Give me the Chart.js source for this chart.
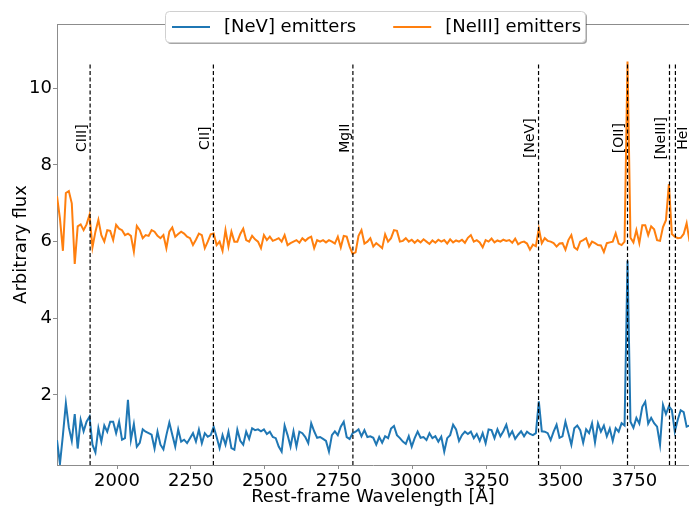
<!DOCTYPE html>
<html><head><meta charset="utf-8">
<script src="https://cdn.jsdelivr.net/npm/chart.js@4"></script>
<style>html,body{margin:0;padding:0;background:#fff;overflow:hidden}canvas{display:block}</style>
</head><body>
<canvas id="c" width="689" height="509"></canvas>
<script>
// ---------------- data ----------------
const wavelengths = [
  1797,1807,1817,1827,1837,1847,1857,1867,1877,1887,
  1897,1907,1917,1927,1937,1947,1957,1967,1977,1987,
  1997,2007,2017,2027,2037,2047,2057,2067,2077,2087,
  2097,2107,2117,2127,2137,2147,2157,2167,2177,2187,
  2197,2207,2217,2227,2237,2247,2257,2267,2277,2287,
  2297,2307,2317,2327,2337,2347,2357,2367,2377,2387,
  2397,2407,2417,2427,2437,2447,2457,2467,2477,2487,
  2497,2507,2517,2527,2537,2547,2557,2567,2577,2587,
  2597,2607,2617,2627,2637,2647,2657,2667,2677,2687,
  2697,2707,2717,2727,2737,2747,2757,2767,2777,2787,
  2797,2807,2817,2827,2837,2847,2857,2867,2877,2887,
  2897,2907,2917,2927,2937,2947,2957,2967,2977,2987,
  2997,3007,3017,3027,3037,3047,3057,3067,3077,3087,
  3097,3107,3117,3127,3137,3147,3157,3167,3177,3187,
  3197,3207,3217,3227,3237,3247,3257,3267,3277,3287,
  3297,3307,3317,3327,3337,3347,3357,3367,3377,3387,
  3397,3407,3417,3427,3437,3447,3457,3467,3477,3487,
  3497,3507,3517,3527,3537,3547,3557,3567,3577,3587,
  3597,3607,3617,3627,3637,3647,3657,3667,3677,3687,
  3697,3707,3717,3727,3737,3747,3757,3767,3777,3787,
  3797,3807,3817,3827,3837,3847,3857,3867,3877,3887,
  3897,3907,3917,3927,3937
];
const nevFlux = [
  0.82,0.20,0.95,1.78,1.15,0.80,1.50,0.60,1.35,1.05,
  1.30,1.43,0.70,0.50,1.13,0.78,1.20,1.04,1.30,1.30,
  1.00,1.30,0.83,0.87,1.87,0.83,1.24,0.65,0.75,1.10,
  1.04,1.00,0.96,0.60,1.04,0.70,0.58,0.95,1.28,0.96,
  0.65,1.10,0.78,0.83,0.74,0.87,1.00,0.78,1.09,0.74,
  1.00,0.91,0.95,1.17,0.90,0.61,0.95,0.70,1.04,0.61,
  0.57,1.09,0.80,0.70,1.04,0.85,1.13,1.08,1.10,1.05,
  1.10,0.98,1.04,0.90,0.87,0.65,0.52,1.20,0.95,0.65,
  1.05,0.65,1.04,1.00,0.90,0.74,1.26,1.05,0.88,0.90,
  0.85,0.80,0.52,0.95,1.05,0.95,1.17,1.30,0.90,0.85,
  1.00,1.04,1.10,0.92,1.08,0.90,0.92,0.88,0.70,0.90,
  0.75,0.92,0.87,1.12,1.19,0.95,0.87,0.78,0.72,0.92,
  0.65,0.87,1.04,0.88,0.90,0.82,1.00,0.87,0.92,0.78,
  0.91,0.52,0.87,0.95,1.22,1.10,0.80,0.95,1.04,0.98,
  1.04,0.87,0.98,0.80,1.00,0.74,1.10,1.08,0.87,1.10,
  0.92,1.05,1.22,0.92,1.05,0.85,0.96,1.05,0.92,1.04,
  0.98,0.95,1.00,1.83,1.05,1.04,1.00,0.82,1.04,1.22,
  0.88,0.92,1.30,1.00,0.70,1.13,1.20,1.08,0.75,1.10,
  1.00,1.26,0.76,1.26,1.04,1.20,0.92,1.12,0.80,1.13,
  1.04,1.26,1.20,5.50,1.30,1.14,1.40,1.25,1.69,1.82,
  1.25,1.40,1.26,1.17,0.70,1.74,1.50,1.70,1.60,1.04,
  1.35,1.60,1.55,1.17,1.20
];
const neiiiFlux = [
  7.19,6.60,5.76,7.27,7.32,7.00,5.42,6.40,6.45,6.30,
  6.45,6.70,5.85,6.26,6.57,6.17,6.00,6.30,6.28,6.04,
  6.44,6.34,6.30,6.17,6.21,6.15,5.74,6.41,6.30,6.09,
  6.17,6.15,6.30,6.26,6.15,6.09,6.17,5.83,6.26,6.37,
  6.13,6.20,6.26,6.21,6.13,6.09,5.91,6.05,6.21,6.17,
  5.83,6.00,6.19,6.21,5.91,6.00,5.76,6.30,5.87,6.26,
  6.00,6.00,6.20,6.34,6.04,6.00,6.15,6.06,6.00,5.83,
  6.17,6.04,6.13,6.02,6.05,6.09,6.00,6.17,5.91,5.96,
  6.00,6.04,5.97,6.09,6.02,6.09,6.13,5.83,6.04,6.00,
  6.04,5.98,6.04,6.00,5.95,6.13,5.85,6.15,6.13,5.87,
  5.68,5.72,6.15,6.30,5.95,6.00,6.09,5.87,5.96,5.90,
  5.83,6.19,6.00,6.09,6.30,6.28,6.00,6.02,6.09,6.00,
  6.05,5.97,6.04,5.98,6.06,6.00,5.94,6.03,5.97,6.05,
  6.00,6.04,5.95,6.06,5.98,6.03,6.00,6.05,5.97,6.10,
  6.17,6.00,6.04,5.98,5.85,6.04,6.00,6.08,5.98,6.03,
  6.00,6.05,6.02,6.04,5.97,6.08,5.93,5.98,6.00,5.95,
  5.79,5.92,5.88,6.34,5.96,6.09,6.02,6.00,5.96,5.87,
  5.95,5.96,5.79,6.04,6.17,5.85,5.79,6.00,6.04,6.09,
  5.87,6.00,5.96,5.91,5.90,5.73,5.96,5.98,6.00,6.22,
  5.95,5.91,6.00,10.70,6.10,5.98,6.30,5.96,6.43,6.43,
  6.17,6.40,6.32,6.04,6.02,6.38,6.56,7.50,6.20,6.13,
  6.09,6.10,6.20,6.48,6.00
];
const seriesNames = ['[NeV] emitters', '[NeIII] emitters'];
const lineNames = ['CIII]', 'CII]', 'MgII', '[NeV]', '[OII]', '[NeIII]', 'HeI'];
const lineWaves = [1909, 2326, 2798, 3426, 3727, 3869, 3889];
const xTicks = [2000, 2250, 2500, 2750, 3000, 3250, 3500, 3750];
const yTicks = [2, 4, 6, 8, 10];
const xRange = [1797, 3935];
const yRange = [0.17, 11.68];
const lineTop = 10.67;
const labelLevel = 8.7;

// ---------------- styles ----------------
const FONT = "'DejaVu Sans', 'Liberation Sans', sans-serif";
const GRAY = '#8c8c8c';
const COLORS = ['#1f77b4', '#ff7f0e'];
const rightSideLabels = new Set(['HeI']);

const spectra = [nevFlux, neiiiFlux].map((arr, k) => ({
  label: seriesNames[k],
  data: wavelengths.map((w, i) => ({x: w, y: arr[i]})),
  borderColor: COLORS[k],
  backgroundColor: COLORS[k],
  borderWidth: 2,
  pointRadius: 0,
  fill: false,
  tension: 0,
  order: 2 - k
}));
const markers = lineWaves.map((w, i) => ({
  label: lineNames[i],
  data: [{x: w, y: yRange[0]}, {x: w, y: lineTop}],
  borderColor: '#000',
  borderWidth: 1.2,
  borderDash: [4, 2.5],
  pointRadius: 0,
  fill: false,
  order: 0,
  isMarker: true
}));

const decor = {
  id: 'decor',
  afterDatasetsDraw(chart) {
    const {ctx, chartArea: a, scales: {x, y}} = chart;
    ctx.save();
    ctx.strokeStyle = GRAY; ctx.lineWidth = 1;
    ctx.beginPath(); ctx.moveTo(a.left, a.top + 0.5); ctx.lineTo(a.right, a.top + 0.5); ctx.stroke();
    ctx.fillStyle = '#000';
    ctx.font = '14px ' + FONT;
    ctx.textAlign = 'center';
    lineNames.forEach((name, i) => {
      const px = x.getPixelForValue(lineWaves[i]);
      const py = y.getPixelForValue(labelLevel);
      const right = rightSideLabels.has(name);
      ctx.save();
      ctx.translate(right ? px + 1 : px - 1, py);
      ctx.rotate(-Math.PI / 2);
      ctx.textBaseline = right ? 'top' : 'bottom';
      ctx.fillText(name, 0, 0);
      ctx.restore();
    });
    ctx.restore();
  },
  afterDraw(chart) {
    const {ctx, chartArea: a} = chart;
    ctx.save();
    ctx.font = '18px ' + FONT;
    const pad = 7, lineLen = 38, gapText = 14, gapEntry = 37, endPad = 4;
    const widths = seriesNames.map(s => ctx.measureText(s).width);
    let total = pad;
    widths.forEach((w, i) => { total += lineLen + gapText + w + (i < widths.length - 1 ? gapEntry : endPad); });
    const lh = 31;
    const cx = (a.left + a.right) / 2 + 2;
    const lx = Math.round(cx - total / 2), ly = 11;
    const rr = (x0, y0, w, h, r) => {
      ctx.beginPath();
      ctx.moveTo(x0 + r, y0); ctx.lineTo(x0 + w - r, y0); ctx.arcTo(x0 + w, y0, x0 + w, y0 + r, r);
      ctx.lineTo(x0 + w, y0 + h - r); ctx.arcTo(x0 + w, y0 + h, x0 + w - r, y0 + h, r);
      ctx.lineTo(x0 + r, y0 + h); ctx.arcTo(x0, y0 + h, x0, y0 + h - r, r);
      ctx.lineTo(x0, y0 + r); ctx.arcTo(x0, y0, x0 + r, y0, r); ctx.closePath();
    };
    ctx.fillStyle = 'rgba(0,0,0,0.35)';
    rr(lx + 2, ly + 2, total, lh, 4); ctx.fill();
    ctx.fillStyle = '#fff';
    rr(lx + 0.5, ly + 0.5, total, lh, 4); ctx.fill();
    ctx.strokeStyle = '#d0d0d0'; ctx.lineWidth = 1; ctx.stroke();
    let xx = lx + pad;
    const cy = ly + lh / 2 + 0.5;
    seriesNames.forEach((s, i) => {
      ctx.strokeStyle = COLORS[i]; ctx.lineWidth = 2;
      ctx.beginPath(); ctx.moveTo(xx, cy); ctx.lineTo(xx + lineLen, cy); ctx.stroke();
      ctx.fillStyle = '#000'; ctx.textAlign = 'left'; ctx.textBaseline = 'middle';
      ctx.fillText(s, xx + lineLen + gapText, cy);
      xx += lineLen + gapText + widths[i] + gapEntry;
    });
    ctx.restore();
  }
};

new Chart(document.getElementById('c').getContext('2d'), {
  type: 'line',
  data: {datasets: [...spectra, ...markers]},
  options: {
    responsive: false,
    animation: false,
    devicePixelRatio: 1,
    layout: {padding: {top: 24, right: 0, bottom: 0, left: 0}},
    plugins: {legend: {display: false}, tooltip: {enabled: false}},
    scales: {
      x: {
        type: 'linear', min: xRange[0], max: xRange[1],
        afterBuildTicks: s => { s.ticks = xTicks.map(v => ({value: v})); },
        afterFit: s => { s.height = 44; },
        grid: {display: true, drawOnChartArea: false, tickLength: 4, color: GRAY, tickColor: GRAY},
        border: {display: true, color: GRAY, width: 1},
        ticks: {color: '#000', font: {family: FONT, size: 18}, padding: 2, maxRotation: 0, autoSkip: false,
                callback: v => String(v)},
        title: {display: true, text: 'Rest-frame Wavelength [Å]', color: '#000',
                font: {family: FONT, size: 18}, padding: {top: 0, bottom: 1}}
      },
      y: {
        type: 'linear', min: yRange[0], max: yRange[1],
        afterBuildTicks: s => { s.ticks = yTicks.map(v => ({value: v})); },
        afterFit: s => { s.width = 57; },
        grid: {display: true, drawOnChartArea: false, tickLength: 4, color: GRAY, tickColor: GRAY},
        border: {display: true, color: GRAY, width: 1},
        ticks: {color: '#000', font: {family: FONT, size: 18}, padding: 1, autoSkip: false,
                callback: v => String(v)},
        title: {display: true, text: 'Arbitrary flux', color: '#000',
                font: {family: FONT, size: 18}, padding: {top: 11, bottom: 0}}
      }
    }
  },
  plugins: [decor]
});
</script>
</body></html>
